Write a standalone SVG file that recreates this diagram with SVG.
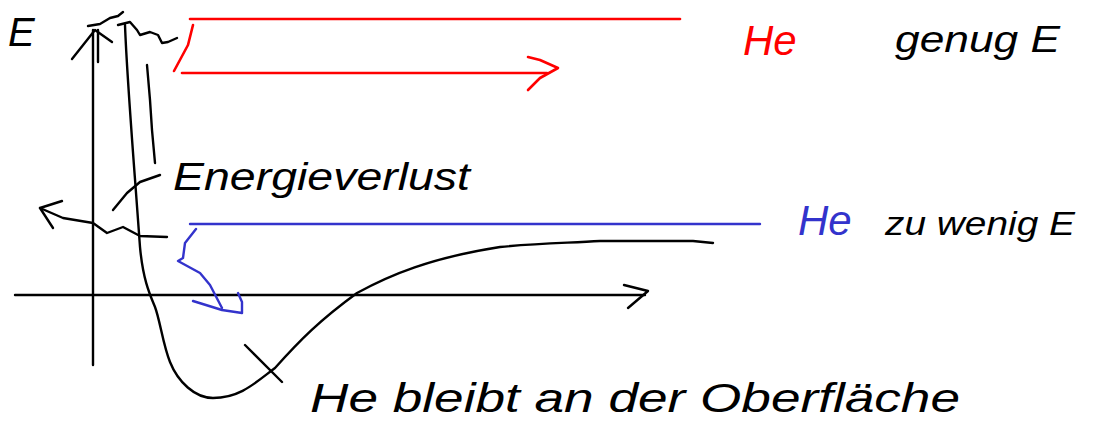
<svg xmlns="http://www.w3.org/2000/svg" width="1093" height="427" viewBox="0 0 1093 427">
<style>
.k{fill:none;stroke:#000;stroke-width:2.4;stroke-linecap:round;stroke-linejoin:round}
.r{fill:none;stroke:#f00;stroke-width:2.6;stroke-linecap:round;stroke-linejoin:round}
.b{fill:none;stroke:#3333cc;stroke-width:2.4;stroke-linecap:round;stroke-linejoin:round}
.t{font-family:"Liberation Sans",Arial,sans-serif;font-style:italic}
</style>
<rect width="1093" height="427" fill="#fff"/>
<g id="axes">
<path class="k" d="M93,30 L93,365"/>
<path class="k" d="M72,59 L95,30 L112,42"/>
<path class="k" d="M88,26 L100,24 L110,18 L118,16 L123,12"/>
<path class="k" d="M98,30 L98,62"/>
<path class="k" d="M15,295 L645,295"/>
<path class="k" d="M624,285 L648,291 L628,308"/>
<text class="t" x="8" y="46" font-size="40">E</text>
</g>
<g id="potential">
<path class="k" d="M125,25 C127,80 133,150 140,247 C143,280 150,295 155,307 C160,320 163,345 170,362 C178,382 195,398 213,398 C240,398 255,383 275,368 C300,340 320,320 357,293 C390,275 430,258 500,247 C540,243 570,243 600,241 L693,241 L713,243"/>
<path class="k" d="M118,25 L130,22 L137,30 L140,35 L150,32 L158,35 L162,43 L168,42 L177,38"/>
<path class="k" d="M147,65 L150,100 L152,130 L155,163"/>
</g>
<g id="he-genug">
<path class="r" d="M190,19 L680,19"/>
<path class="r" d="M193,25 L188,45 L174,71"/>
<path class="r" d="M182,73 L547,73"/>
<path class="r" d="M528,57 L540,60 L558,68 L540,78 L528,90"/>
<text class="t" x="743" y="55" font-size="42" fill="#f00">He</text>
<text class="t" x="895" y="52" font-size="36" textLength="165" lengthAdjust="spacingAndGlyphs">genug E</text>
</g>
<g id="he-zuwenig">
<path class="b" d="M190,224 L760,224"/>
<path class="b" d="M196,229 L185,243 L183,258 L178,261 L200,273 L210,285 L222,308"/>
<path class="b" d="M193,301 L222,310 L242,313 L242,302 L238,293"/>
<text class="t" x="798" y="235" font-size="42" fill="#3333cc">He</text>
<text class="t" x="885" y="235" font-size="34" textLength="190" lengthAdjust="spacingAndGlyphs">zu wenig E</text>
</g>
<g id="energieverlust">
<path class="k" d="M113,210 L127,193 L140,182 L160,175"/>
<path class="k" d="M167,237 L140,236 L123,227 L107,233 L93,223 L63,218 L40,208"/>
<path class="k" d="M62,201 L40,208 L53,228"/>
<text class="t" x="173" y="190" font-size="38" textLength="297" lengthAdjust="spacingAndGlyphs">Energieverlust</text>
</g>
<g id="oberflaeche">
<path class="k" d="M245,345 L282,382"/>
<text class="t" x="310" y="412" font-size="40" textLength="650" lengthAdjust="spacingAndGlyphs">He bleibt an der Oberfläche</text>
</g>
</svg>
